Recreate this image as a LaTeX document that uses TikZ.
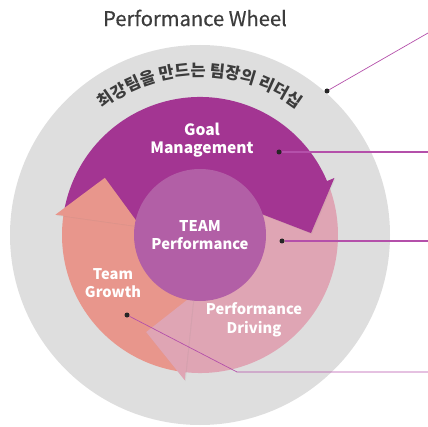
\documentclass[tikz,border=0pt]{standalone}
\usepackage{fontspec}
\setmainfont{Noto Sans CJK KR}
\newfontfamily\titlefont{Noto Sans CJK KR}[FakeBold=0.5]
\usepackage{tikz}
\usetikzlibrary{positioning, shadows, decorations.text}

\definecolor{goalpurple}{HTML}{A33592}
\definecolor{drivepink}{HTML}{DFA5B4}
\definecolor{growthsalmon}{HTML}{E8968C}
\definecolor{corepurple}{HTML}{B25FA6}
\definecolor{ringgray}{HTML}{DEDEDE}
\definecolor{leaderviolet}{HTML}{B450AA}
\definecolor{titlegray}{HTML}{3C3C3C}

\begin{document}
\begin{tikzpicture}[
        x=1pt, y=1pt,
        title node/.style={font=\titlefont\fontsize{20.2}{24}\selectfont, text=titlegray},
        core circle/.style={circle, fill=corepurple, minimum size=132pt, align=center, text=white, font=\fontsize{14.8}{18.5}\selectfont\bfseries},
        wheel label/.style={align=center, text=white, font=\fontsize{14.7}{18.5}\selectfont\bfseries},
        head shadow/.style={drop shadow={opacity=0.1, shadow xshift=1pt, shadow yshift=-1pt}},
        dot/.style={circle, fill=black!85, inner sep=0pt, minimum size=5pt},
        leader/.style={draw=leaderviolet, line width=1.1pt},
        thin leader/.style={draw=leaderviolet, line width=0.7pt}
    ]
    \useasboundingbox (0,0) rectangle (428,426);

    % Outer Ring
    \fill[ringgray] (200,191) circle[radius=190];

    % Arrow bodies (both ends tucked under a head)
    \begin{scope}[shift={(200,191)}]
        \fill[goalpurple] (170:60) arc[start angle=170, end angle=21, radius=60]
            -- (21:138) arc[start angle=21, end angle=170, radius=138] -- cycle;
        \fill[drivepink] (21:60) arc[start angle=21, end angle=-98, radius=60]
            -- (-98:138) arc[start angle=-98, end angle=21, radius=138] -- cycle;
        \fill[growthsalmon] (262:60) arc[start angle=262, end angle=170, radius=60]
            -- (170:138) arc[start angle=170, end angle=262, radius=138] -- cycle;

        % Arrow heads
        \fill[goalpurple, head shadow] (23:60) -- (23:146) -- (1:111) -- cycle;
        \fill[drivepink, head shadow] (-96:60) -- (-96:146) -- (-119:111) -- cycle;
        \fill[growthsalmon, head shadow] (172:60) -- (172:146) -- (149:111) -- cycle;

        % Curved caption
        \path[decorate, decoration={text along path, text align=center,
            text={|\fontsize{16.5}{17}\selectfont\bfseries\color{titlegray}|최강팀을 만드는 팀장의 리더십}}]
            (139:159) arc[start angle=139, end angle=41, radius=159];
    \end{scope}

    % Central Nodes
    \node[title node] (title) at (195,408) {Performance Wheel};
    \node[core circle] (core) at (200,191) {TEAM\\Performance};

    % Segment labels
    \node[wheel label, font=\fontsize{15.6}{18.5}\selectfont\bfseries] (goal) at (202,286) {Goal\\Management};
    \node[wheel label] (growth) at (113,143) {Team\\Growth};
    \node[wheel label] (driving) at (254,106) {Performance\\Driving};

    % Dots and right margin ends
    \node[dot] (dotring) at (327,335) {};
    \node[dot] (dotgoal) at (279,274) {};
    \node[dot] (dotdrive) at (282,185) {};
    \node[dot] (dotgrowth) at (127,111) {};
    \coordinate (endring) at (428,393);
    \coordinate (endgoal) at (428,274);
    \coordinate (enddrive) at (428,185);
    \coordinate (bendgrowth) at (237,54);
    \coordinate (endgrowth) at (428,54);

    % Leader lines
    \draw[thin leader] (dotring) -- (endring);
    \draw[leader] (dotgoal) -- (endgoal);
    \draw[leader] (dotdrive) -- (enddrive);
    \draw[thin leader] (dotgrowth) -- (bendgrowth) -- (endgrowth);

\end{tikzpicture}
\end{document}
